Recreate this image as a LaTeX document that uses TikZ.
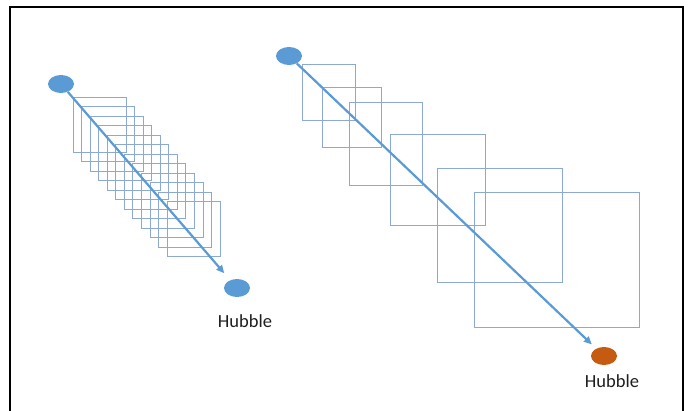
\documentclass[tikz,border=0pt]{standalone}
\usepackage{fontspec}
\setmainfont{Carlito}
\usetikzlibrary{arrows.meta,shapes.geometric}
\definecolor{dotblue}{RGB}{91,155,213}
\definecolor{dotorange}{RGB}{197,90,17}
\definecolor{boxblue}{RGB}{140,168,212}
\definecolor{inkgray}{RGB}{30,30,30}
\tikzset{font={\fontsize{18.5pt}{20}\selectfont}}

\begin{document}
\begin{tikzpicture}[x=1pt,y=-1pt,
    dot/.style={ellipse,minimum width=26pt,minimum height=18pt,inner sep=0pt,fill=dotblue},
    ray/.style={draw=dotblue,line width=2.2pt,-{Triangle[length=8pt,width=7pt]}},
    frame/.style={line width=0.9pt,draw=boxblue}]
      \useasboundingbox (0,0) rectangle (689,411);
      %border
      \draw[line width=2pt] (10,411) -- (10,7) -- (683,7) -- (683,411);
      %small squares
      \foreach \i in {0,...,11}
	\draw[frame] (73+8.55*\i,97+9.5*\i) rectangle ++(53,55);
      %growing squares
      \foreach \x/\y/\w/\h in {302/64/53/56, 322/87/59/60, 349/102/73/83,
          390/134/95/91, 437/168/125/114, 474/192/165/135}
	\draw[frame] (\x,\y) rectangle ++(\w,\h);
      %dots
      \node[dot] (startA) at (61,84) {};
      \node[dot] (hubbleA) at (237,288) {};
      \node[dot] (startB) at (289,56) {};
      \node[dot,fill=dotorange] (hubbleB) at (604,356) {};
      %labels
      \node[text=inkgray] (labelA) at (245,321) {Hubble};
      \node[text=inkgray] (labelB) at (612,381) {Hubble};
      %rays
      \draw[ray,shorten >=9pt] (startA) -- (hubbleA);
      \draw[ray,shorten >=6pt] (startB) -- (hubbleB);
    \end{tikzpicture}
\end{document}
